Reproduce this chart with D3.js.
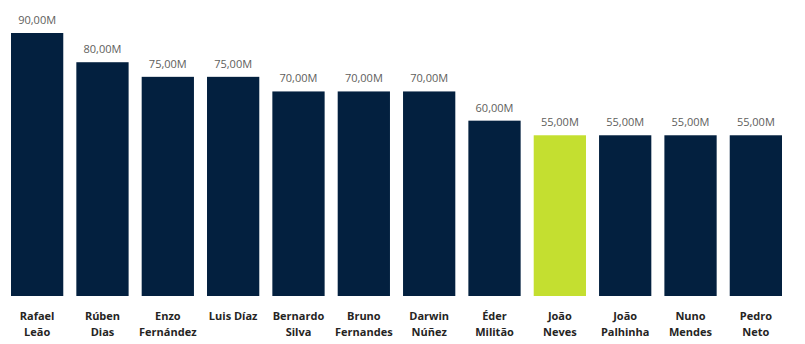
<!DOCTYPE html>
<html>
<head>
<meta charset="utf-8">
<script src="https://cdn.jsdelivr.net/npm/d3@7"></script>
<style>
  html, body { margin: 0; padding: 0; background: #ffffff; }
  svg { display: block; }
</style>
</head>
<body>
<svg id="chart" width="805" height="344"></svg>
<script>
const players = ["Rafael Leão", "Rúben Dias", "Enzo Fernández", "Luis Díaz", "Bernardo Silva", "Bruno Fernandes", "Darwin Núñez", "Éder Militão", "João Neves", "João Palhinha", "Nuno Mendes", "Pedro Neto"];
const labelLines = [["Rafael", "Leão"], ["Rúben", "Dias"], ["Enzo", "Fernández"], ["Luis Díaz"], ["Bernardo", "Silva"], ["Bruno", "Fernandes"], ["Darwin", "Núñez"], ["Éder", "Militão"], ["João", "Neves"], ["João", "Palhinha"], ["Nuno", "Mendes"], ["Pedro", "Neto"]];
const values = [90, 80, 75, 75, 70, 70, 70, 60, 55, 55, 55, 55];
const highlighted = ["João Neves"];

const svg = d3.select("#chart");

// Bars: first bar starts at x=11, last bar ends at x=782
const firstLeft = 11, lastRight = 782;
const step = (lastRight - firstLeft) / (players.length - 0.2);
const x = d3.scaleBand()
  .domain(players)
  .range([firstLeft - step * 0.1, firstLeft - step * 0.1 + step * players.length])
  .paddingInner(0.2)
  .paddingOuter(0.1);

const y = d3.scaleLinear().domain([0, 90]).range([296, 33]);

const data = players.map((p, i) => ({ name: p, value: values[i], lines: labelLines[i] }));

svg.selectAll("rect.bar")
  .data(data)
  .join("rect")
  .attr("class", "bar")
  .attr("x", d => x(d.name))
  .attr("width", x.bandwidth())
  .attr("y", d => y(d.value))
  .attr("height", d => y(0) - y(d.value))
  .attr("fill", d => highlighted.includes(d.name) ? "#c4df30" : "#03203f");

const fmt = v => d3.format(".2f")(v).replace(".", ",") + "M";

svg.selectAll("text.val")
  .data(data)
  .join("text")
  .attr("class", "val")
  .attr("x", d => x(d.name) + x.bandwidth() / 2)
  .attr("y", d => y(d.value) - 9)
  .attr("text-anchor", "middle")
  .attr("font-family", "'Segoe UI', 'Open Sans', sans-serif")
  .attr("font-size", "11px")
  .attr("fill", "#605e5c")
  .text(d => fmt(d.value));

const xAxis = svg.append("g").attr("transform", `translate(0,${y(0)})`);
const cat = xAxis.selectAll("text.cat")
  .data(data)
  .join("text")
  .attr("class", "cat")
  .attr("x", d => x(d.name) + x.bandwidth() / 2)
  .attr("y", 24)
  .attr("text-anchor", "middle")
  .attr("font-family", "'Segoe UI', 'Open Sans', sans-serif")
  .attr("font-size", "11px")
  .attr("font-weight", "bold")
  .attr("fill", "#252423");
cat.selectAll("tspan")
  .data(d => d.lines.map(l => ({ l, cx: x(d.name) + x.bandwidth() / 2 })))
  .join("tspan")
  .attr("x", t => t.cx)
  .attr("dy", (t, i) => i === 0 ? 0 : 16)
  .text(t => t.l);
</script>
</body>
</html>
